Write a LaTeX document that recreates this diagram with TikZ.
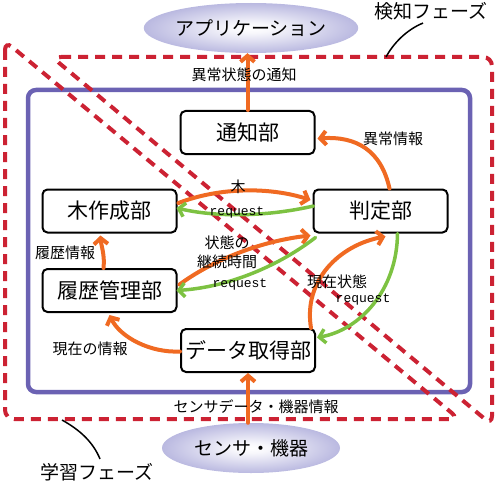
\documentclass[tikz,border=0pt]{standalone}
\usepackage{fontspec}
\setmainfont{Noto Sans CJK JP}
\newfontfamily\reqfont{Liberation Mono}
\usetikzlibrary{arrows.meta,shapes.geometric,calc}
\definecolor{myorange}{HTML}{F06A22}
\definecolor{mygreen}{HTML}{7DC242}
\definecolor{myblue}{HTML}{6B62B3}
\definecolor{myred}{HTML}{CC2233}
\definecolor{ellcol}{HTML}{7A78C4}
\pgfdeclareradialshading{ellshade}{\pgfpoint{0bp}{0bp}}{color(0bp)=(white); color(5bp)=(white!94!ellcol); color(46bp)=(ellcol); color(100bp)=(ellcol)}
\begin{document}
\begin{tikzpicture}[x=1pt,y=-1pt,
 unit/.style={draw=black, line width=2pt, rounded corners=5pt, fill=white, minimum width=134pt, minimum height=43pt, font=\fontsize{21}{24}\selectfont, inner sep=0pt},
 ext/.style={ellipse, shading=ellshade, minimum width=178pt, minimum height=50pt, font=\fontsize{19}{22}\selectfont, inner sep=0pt},
 oarr/.style={draw=myorange, line width=4pt, line cap=round, -{Straight Barb[length=6pt,width=14pt]}},
 garr/.style={draw=mygreen, line width=3.5pt, line cap=round, -{Straight Barb[length=6pt,width=14pt]}},
 lbl/.style={font=\fontsize{15}{19}\selectfont, inner sep=0pt},
 req/.style={font=\reqfont\fontsize{13}{15}\selectfont, inner sep=0pt},
 phase/.style={draw=myred, line width=4pt, dash pattern=on 10pt off 7pt, rounded corners=9pt},
 lead/.style={draw=black, line width=1.5pt},
 ptitle/.style={font=\fontsize{19}{22}\selectfont, inner sep=0pt}]
\useasboundingbox (0,0) rectangle (500,500);

% frames
\draw[myblue, line width=4.5pt, rounded corners=8pt] (28,90) rectangle (470,392);
\draw[phase] (5,41) -- (5,419) -- (459,419) -- cycle;
\draw[phase] (52,57) -- (492,57) -- (492,425) -- cycle;

% nodes
\node[ext] (app) at (251,28) {アプリケーション};
\node[ext] (sens) at (251,448) {センサ・機器};
\node[unit] (tsuchi) at (247.5,132.5) {通知部};
\node[unit] (ki) at (109.5,211) {木作成部};
\node[unit] (hantei) at (380.5,211) {判定部};
\node[unit] (rireki) at (109.5,290.5) {履歴管理部};
\node[unit] (data) at (248,350.5) {データ取得部};

% phase titles and leaders
\node[ptitle] (p1) at (431,11) {検知フェーズ};
\node[ptitle] (p2) at (97,472) {学習フェーズ};
\coordinate (c1) at (386,57);
\coordinate (c2) at (62,420);
\draw[lead] ($(p1.south)+(-8,3)$) .. controls (406,30) and (393,44) .. (c1);
\draw[lead] (c2) .. controls (80,430) and (93,442) .. ($(p2.north)+(3,-4)$);

% arrows
\draw[oarr] (tsuchi.north) -- (tsuchi.north |- app.south);
\draw[oarr] ($(hantei.north west)+(77,0)$) .. controls (381,150) and (356,136) .. ($(tsuchi.east)+(2,6)$);
\draw[oarr] ($(ki.east)+(1,-8)$) .. controls (220,187) and (270,187) .. ($(hantei.west)+(-2,-11)$);
\draw[garr] ($(hantei.west)+(1,-5)$) .. controls (270,216) and (220,218) .. ($(ki.east)+(-1,-3)$);
\draw[oarr] ($(rireki.east)+(2,-6)$) .. controls (220,255) and (270,240) .. ($(hantei.south west)+(-2,2)$);
\draw[garr] ($(hantei.south west)+(3,4)$) .. controls (280,265) and (230,287) .. ($(rireki.east)+(-1,0)$);
\draw[oarr] ($(rireki.north)+(-6,0)$) .. controls (105,255) and (101,245) .. ($(ki.south)+(-9,2)$);
\draw[oarr] ($(data.west)+(0,1)$) .. controls (150,353) and (120,337) .. ($(rireki.south)+(0,2)$);
\draw[oarr] ($(data.north east)+(-5,0)$) .. controls (303,280) and (340,245) .. ($(hantei.south)+(5,3)$);
\draw[garr] ($(hantei.south)+(17,0)$) .. controls (397,290) and (360,330) .. ($(data.east)+(1,-13)$);
\draw[oarr] (sens.north -| data.south) -- (data.south);

% labels
\node[lbl] (l1) at (244,75) {異常状態の通知};
\node[lbl] (l2) at (393,139) {異常情報};
\node[lbl] (l3) at (238,187) {木};
\node[req] (l4) at (237,213) {request};
\node[lbl, align=center] (l5) at (227,252) {状態の\\継続時間};
\node[req] (l6) at (240,285) {request};
\node[lbl] (l7) at (65,253) {履歴情報};
\node[lbl] (l8) at (90,349) {現在の情報};
\node[lbl] (l9) at (337,282) {現在状態};
\node[req] (l10) at (363,300) {request};
\node[lbl] (l11) at (256,407) {センサデータ・機器情報};
\end{tikzpicture}
\end{document}
